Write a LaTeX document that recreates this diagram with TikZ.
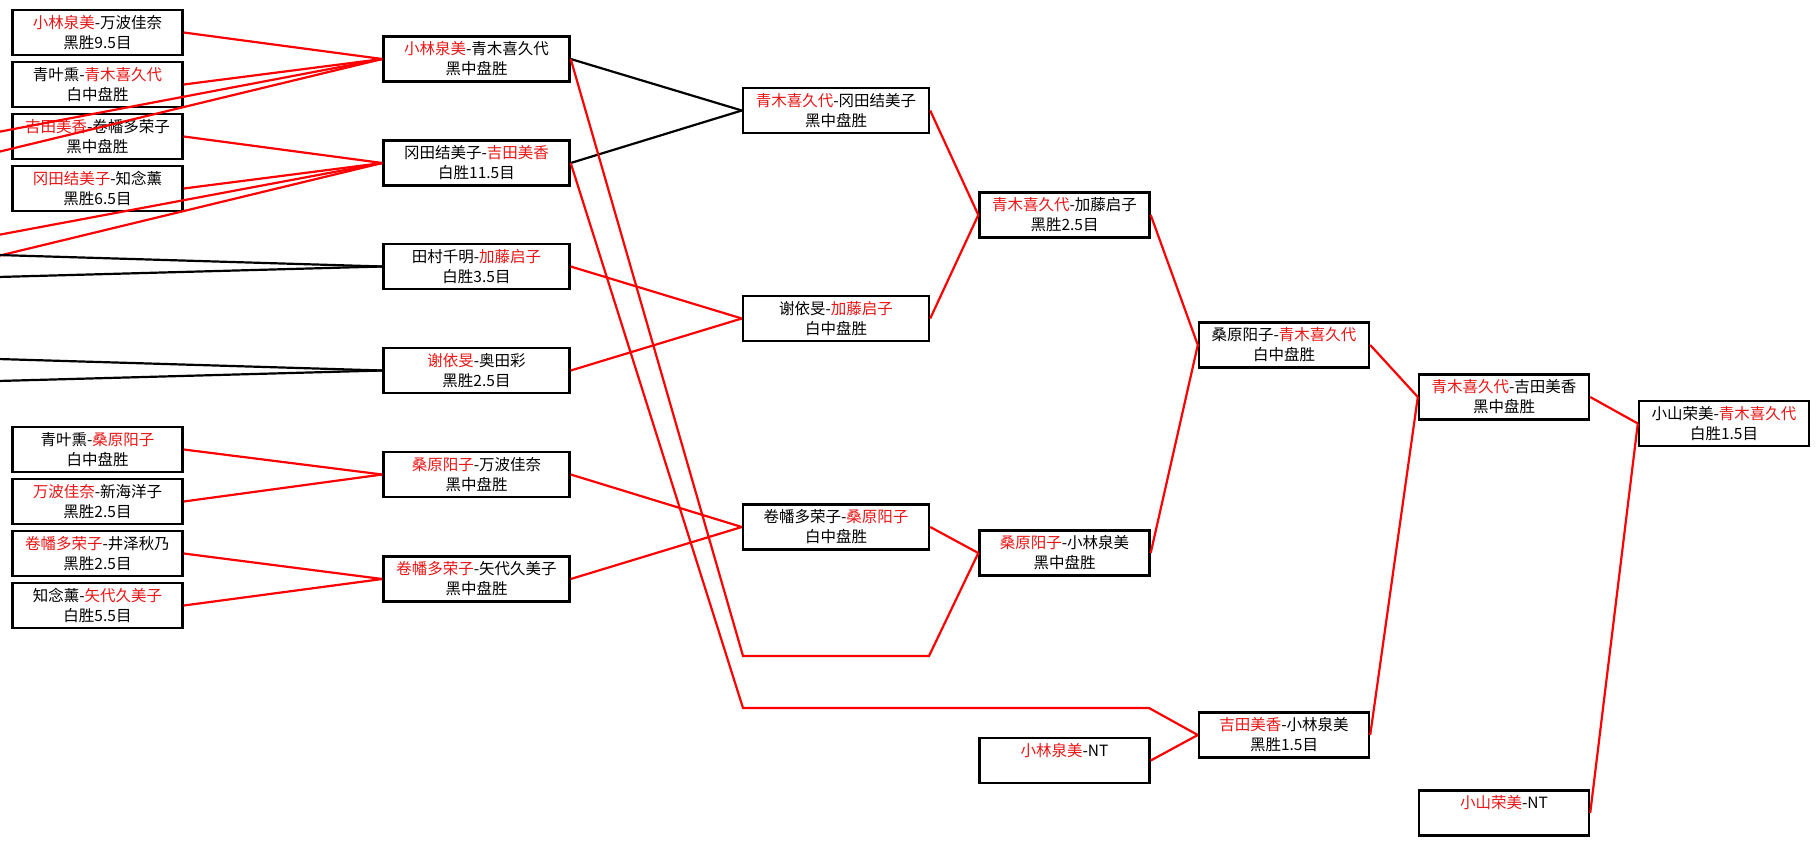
\documentclass[tikz,border=0pt]{standalone}
\usepackage{fontspec}
\setmainfont{Noto Sans CJK SC}
\definecolor{winred}{RGB}{232,22,22}
\newcommand{\win}[1]{\textcolor{winred}{#1}}

\begin{document}
\begin{tikzpicture}[x=1pt,y=-1pt,
  game/.style={rectangle,draw,line width=2.4pt,align=center,minimum width=170pt,minimum height=45pt,inner sep=0pt,font=\fontsize{15.5}{20}\selectfont},
  widegame/.style={game,minimum width=186pt},
  redlink/.style={red,line width=2.2pt},
  blacklink/.style={black,line width=2.2pt}
]
\useasboundingbox[fill=white] (0,0) rectangle (1820,845);

% erste Runde (links)
\node[game] (a1) at (97.5,32.5) {\win{小林泉美}-万波佳奈\\黑胜9.5目};
\node[game] (a2) at (97.5,84.5) {青叶熏-\win{青木喜久代}\\白中盘胜};
\node[game] (a3) at (97.5,136.5) {\win{吉田美香}-卷幡多荣子\\黑中盘胜};
\node[game] (a4) at (97.5,188.5) {\win{冈田结美子}-知念薰\\黑胜6.5目};
\node[game] (a5) at (97.5,449.5) {青叶熏-\win{桑原阳子}\\白中盘胜};
\node[game] (a6) at (97.5,501.5) {\win{万波佳奈}-新海洋子\\黑胜2.5目};
\node[game] (a7) at (97.5,553.5) {\win{卷幡多荣子}-井泽秋乃\\黑胜2.5目};
\node[game] (a8) at (97.5,605.5) {知念薰-\win{矢代久美子}\\白胜5.5目};

% zweite Runde
\node[widegame] (b1) at (476.5,59) {\win{小林泉美}-青木喜久代\\黑中盘胜};
\node[widegame] (b2) at (476.5,163) {冈田结美子-\win{吉田美香}\\白胜11.5目};
\node[widegame] (b3) at (476.5,266.5) {田村千明-\win{加藤启子}\\白胜3.5目};
\node[widegame] (b4) at (476.5,370.5) {\win{谢依旻}-奥田彩\\黑胜2.5目};
\node[widegame] (b5) at (476.5,474.5) {\win{桑原阳子}-万波佳奈\\黑中盘胜};
\node[widegame] (b6) at (476.5,579) {\win{卷幡多荣子}-矢代久美子\\黑中盘胜};

% dritte Runde
\node[widegame] (c1) at (836,110.5) {\win{青木喜久代}-冈田结美子\\黑中盘胜};
\node[widegame] (c2) at (836,318.5) {谢依旻-\win{加藤启子}\\白中盘胜};
\node[widegame] (c3) at (836,527) {卷幡多荣子-\win{桑原阳子}\\白中盘胜};

% vierte Runde bis Finale
\node[game] (d1) at (1064.5,215) {\win{青木喜久代}-加藤启子\\黑胜2.5目};
\node[game] (d2) at (1064.5,553) {\win{桑原阳子}-小林泉美\\黑中盘胜};
\node[game] (d3) at (1064.5,760.5) {\win{小林泉美}-NT\\\phantom{黑}};
\node[game] (e1) at (1284,345) {桑原阳子-\win{青木喜久代}\\白中盘胜};
\node[game] (e2) at (1284,735) {\win{吉田美香}-小林泉美\\黑胜1.5目};
\node[game] (f1) at (1504,397) {\win{青木喜久代}-吉田美香\\黑中盘胜};
\node[game] (f2) at (1504,813) {\win{小山荣美}-NT\\\phantom{黑}};
\node[game] (g1) at (1724,423.5) {小山荣美-\win{青木喜久代}\\白胜1.5目};

% Enden am linken Rand und Knicke
\coordinate (l1) at (-2,132);
\coordinate (l2) at (-2,152);
\coordinate (l3) at (-2,235);
\coordinate (l4) at (-2,256);
\coordinate (l5) at (-2,255);
\coordinate (l6) at (-2,277);
\coordinate (l7) at (-2,359);
\coordinate (l8) at (-2,381);
\coordinate (k1) at (743,656);
\coordinate (k2) at (929,656);
\coordinate (k3) at (743,708);
\coordinate (k4) at (1149,708);

% Verbindungen erste Runde
\draw[redlink] (a1.east) -- (b1.west);
\draw[redlink] (a2.east) -- (b1.west);
\draw[redlink] (l1) -- (b1.west);
\draw[redlink] (l2) -- (b1.west);
\draw[redlink] (a3.east) -- (b2.west);
\draw[redlink] (a4.east) -- (b2.west);
\draw[redlink] (l3) -- (b2.west);
\draw[redlink] (l4) -- (b2.west);
\draw[blacklink] (l5) -- (b3.west);
\draw[blacklink] (l6) -- (b3.west);
\draw[blacklink] (l7) -- (b4.west);
\draw[blacklink] (l8) -- (b4.west);
\draw[redlink] (a5.east) -- (b5.west);
\draw[redlink] (a6.east) -- (b5.west);
\draw[redlink] (a7.east) -- (b6.west);
\draw[redlink] (a8.east) -- (b6.west);

% Verbindungen weiter rechts
\draw[blacklink] (b1.east) -- (c1.west);
\draw[blacklink] (b2.east) -- (c1.west);
\draw[redlink] (b3.east) -- (c2.west);
\draw[redlink] (b4.east) -- (c2.west);
\draw[redlink] (b5.east) -- (c3.west);
\draw[redlink] (b6.east) -- (c3.west);
\draw[redlink] (c1.east) -- (d1.west);
\draw[redlink] (c2.east) -- (d1.west);
\draw[redlink] (c3.east) -- (d2.west);
\draw[redlink] (b1.east) -- (k1) -- (k2) -- (d2.west);
\draw[redlink] (b2.east) -- (k3) -- (k4) -- (e2.west);
\draw[redlink] (d1.east) -- (e1.west);
\draw[redlink] (d2.east) -- (e1.west);
\draw[redlink] (d3.east) -- (e2.west);
\draw[redlink] (e1.east) -- (f1.west);
\draw[redlink] (e2.east) -- (f1.west);
\draw[redlink] (f1.east) -- (g1.west);
\draw[redlink] (f2.east) -- (g1.west);

\end{tikzpicture}
\end{document}
